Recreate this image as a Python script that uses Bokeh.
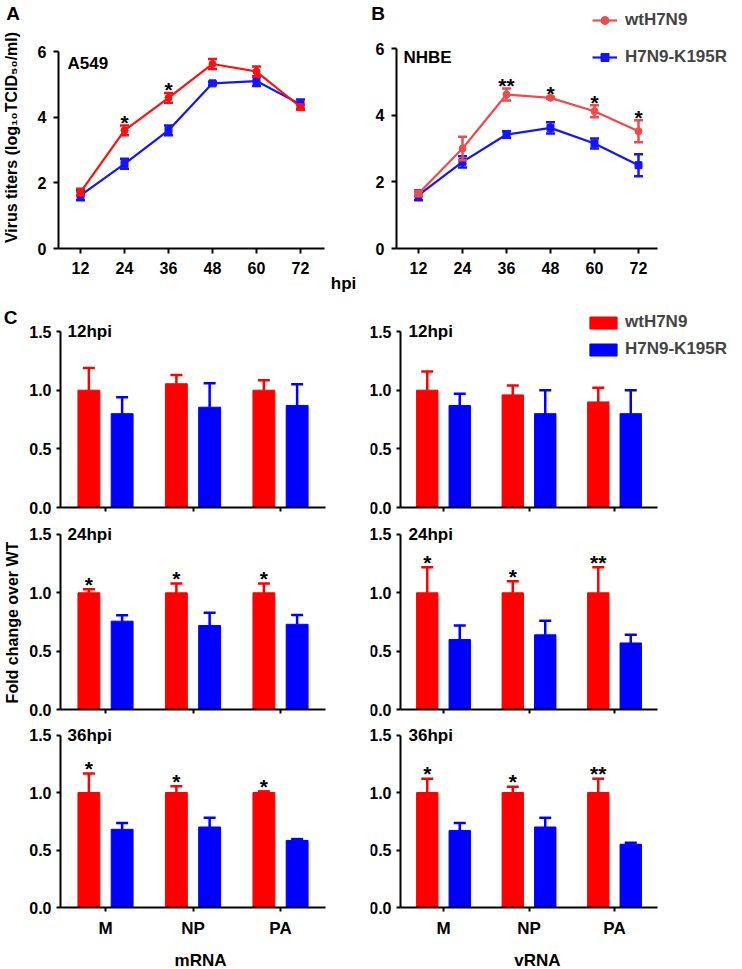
import math
from bokeh.plotting import figure
from bokeh.layouts import column, row
from bokeh.models import (Range1d, Label, Legend, LegendItem,
                          FixedTicker, ColumnDataSource, NumeralTickFormatter)
from bokeh.transform import dodge
from bokeh.core.properties import value
from bokeh.embed import file_html
from bokeh.resources import INLINE

# ---------------- data ----------------
hpi = [12, 24, 36, 48, 60, 72]
a549_wt = [1.72, 3.60, 4.59, 5.62, 5.39, 4.31]
a549_wt_sd = [0.10, 0.15, 0.15, 0.15, 0.15, 0.08]
a549_mut = [1.62, 2.58, 3.60, 5.03, 5.10, 4.39]
a549_mut_sd = [0.15, 0.15, 0.15, 0.05, 0.15, 0.15]
a549_stars = ["", "*", "*", "", "", ""]

nhbe_wt = [1.65, 3.00, 4.62, 4.52, 4.12, 3.52]
nhbe_wt_sd = [0.08, 0.35, 0.18, 0.03, 0.18, 0.33]
nhbe_mut = [1.60, 2.60, 3.42, 3.62, 3.15, 2.50]
nhbe_mut_sd = [0.15, 0.17, 0.10, 0.17, 0.15, 0.33]
nhbe_stars = ["", "", "**", "*", "*", "*"]

genes = ["M", "NP", "PA"]

m12_wt = [1.00, 1.055, 1.00]
m12_wt_sd = [0.19, 0.075, 0.085]
m12_mut = [0.80, 0.855, 0.87]
m12_mut_sd = [0.14, 0.205, 0.18]
m12_stars = ["", "", ""]

v12_wt = [1.00, 0.96, 0.90]
v12_wt_sd = [0.16, 0.08, 0.12]
v12_mut = [0.87, 0.80, 0.80]
v12_mut_sd = [0.10, 0.20, 0.20]
v12_stars = ["", "", ""]

m24_wt = [1.00, 1.00, 1.00]
m24_wt_sd = [0.03, 0.08, 0.08]
m24_mut = [0.757, 0.72, 0.73]
m24_mut_sd = [0.05, 0.11, 0.08]
m24_stars = ["*", "*", "*"]

v24_wt = [1.00, 1.00, 1.00]
v24_wt_sd = [0.22, 0.10, 0.22]
v24_mut = [0.60, 0.64, 0.57]
v24_mut_sd = [0.12, 0.12, 0.07]
v24_stars = ["*", "*", "**"]

m36_wt = [1.00, 1.00, 1.00]
m36_wt_sd = [0.166, 0.055, 0.01]
m36_mut = [0.68, 0.70, 0.583]
m36_mut_sd = [0.055, 0.08, 0.012]
m36_stars = ["*", "*", "*"]

v36_wt = [1.00, 1.00, 1.00]
v36_wt_sd = [0.12, 0.05, 0.12]
v36_mut = [0.67, 0.70, 0.55]
v36_mut_sd = [0.065, 0.08, 0.013]
v36_stars = ["*", "*", "**"]

y_ticks_line = [0, 2, 4, 6]
y_ticks_bar = [0, 0.5, 1.0, 1.5]

# ---------------- style ----------------
FONT = "Liberation Sans"
RED_A = "#ff1010"
RED_B = "#f04a4a"
BLUE = "#1414ff"
BAR_RED = "#ff0000"
BAR_BLUE = "#0000ff"
STAR_OFFSET = -5


def base_fig(W, H, x_range, y_range):
    p = figure(width=W, height=H, x_range=x_range, y_range=y_range,
               output_backend="svg", toolbar_location=None,
               min_border_left=0, min_border_right=0, min_border_top=0,
               min_border_bottom=0)
    p.outline_line_color = None
    p.xgrid.visible = False
    p.ygrid.visible = False
    p.background_fill_color = "white"
    p.border_fill_color = "white"
    for ax in (p.xaxis[0], p.yaxis[0]):
        ax.axis_line_width = 2
        ax.axis_line_color = "black"
        ax.major_tick_line_width = 2
        ax.major_tick_line_color = "black"
        ax.minor_tick_line_color = None
        ax.major_tick_in = 0
        ax.major_label_text_font = FONT
        ax.major_label_text_font_style = "bold"
        ax.major_label_text_color = "black"
        ax.major_label_text_font_size = "16px"
    return p


def label(p, H, text, lx, ly, size=16, align="left", baseline="middle",
          angle=0):
    # lx, ly: pixel position inside the figure, measured from its top-left
    p.add_layout(Label(x=lx, y=H - ly, x_units="screen", y_units="screen",
                       text=text, text_font=FONT, text_font_style="bold",
                       text_font_size=f"{size}px", text_color="black",
                       text_align=align, text_baseline=baseline, angle=angle))


def line_panel(W, H, ax_x, ax_y, ppy, xaxis_end, wt, wt_sd, mut, mut_sd,
               stars, red):
    # ax_x / ax_y: pixel position of the axes corner (x=6, y=0) in the figure
    ppx = 44 / 12
    xr = Range1d(6 - ax_x / ppx, 6 + (W - ax_x) / ppx)
    yr = Range1d(-(H - ax_y) / ppy, ax_y / ppy)
    p = base_fig(W, H, xr, yr)
    p.xaxis.fixed_location = 0
    p.yaxis.fixed_location = 6
    p.xaxis.ticker = FixedTicker(ticks=hpi)
    p.yaxis.ticker = FixedTicker(ticks=y_ticks_line)
    p.yaxis.bounds = (0, 6)
    p.xaxis.bounds = (6, xaxis_end)
    p.xaxis.major_tick_out = 5
    p.yaxis.major_tick_out = 5
    p.xaxis.major_label_standoff = 8
    p.yaxis.major_label_standoff = 7
    src = ColumnDataSource(dict(
        x=hpi, wt=wt, mut=mut,
        wt_lo=[a - b for a, b in zip(wt, wt_sd)],
        wt_hi=[a + b for a, b in zip(wt, wt_sd)],
        mut_lo=[a - b for a, b in zip(mut, mut_sd)],
        mut_hi=[a + b for a, b in zip(mut, mut_sd)],
        stars=stars))
    rs = {}
    for key, col, mk in (("mut", BLUE, "square"), ("wt", red, "circle")):
        l = p.line("x", key, source=src, line_color=col, line_width=2.2)
        p.segment(x0="x", y0=key + "_lo", x1="x", y1=key + "_hi", source=src,
                  line_color=col, line_width=2.5)
        for end in ("_lo", "_hi"):
            p.scatter("x", key + end, source=src, marker="dash", size=9,
                      line_color=col, line_width=2.5)
        m = p.scatter("x", key, source=src, marker=mk, size=7,
                      fill_color=col, line_color=col)
        rs[key] = (l, m)
    p.text("x", "wt_hi", text="stars", source=src, text_font=value(FONT),
           text_font_style="bold", text_font_size="21px", text_align="center",
           text_baseline="alphabetic", y_offset=STAR_OFFSET + 2,
           text_color="black")
    return p, rs


def bar_panel(W, H, ax_x, first_tick, ppx, axis_end, zero_y, ppy, wt, wt_sd,
              mut, mut_sd, stars, show_labels):
    # ax_x: pixel x of the y axis; first_tick: pixel x of the first category;
    # zero_y: pixel y of value 0 (from the figure top)
    idx = list(range(len(genes)))
    xr = Range1d(-first_tick / ppx, (W - first_tick) / ppx)
    yr = Range1d(-(H - zero_y) / ppy, zero_y / ppy)
    p = base_fig(W, H, xr, yr)
    x_lo = (ax_x - first_tick) / ppx
    p.xaxis.fixed_location = 0
    p.yaxis.fixed_location = x_lo
    p.xaxis.ticker = FixedTicker(ticks=idx)
    p.xaxis.bounds = (x_lo, (axis_end - first_tick) / ppx)
    p.yaxis.ticker = FixedTicker(ticks=y_ticks_bar)
    p.yaxis.formatter = NumeralTickFormatter(format="0.0")
    p.yaxis.bounds = (0, 1.5)
    p.yaxis.major_tick_out = 4
    p.yaxis.major_label_standoff = 5
    p.xaxis.major_tick_out = 4
    if show_labels:
        p.xaxis.major_label_overrides = {i: g for i, g in zip(idx, genes)}
        p.xaxis.major_label_text_font_size = "17px"
        p.xaxis.major_label_standoff = 7
    else:
        p.xaxis.major_label_overrides = {i: "" for i in idx}
        p.xaxis.major_label_standoff = 0
    src = ColumnDataSource(dict(
        idx=idx, wt=wt, mut=mut,
        wt_hi=[a + b for a, b in zip(wt, wt_sd)],
        mut_hi=[a + b for a, b in zip(mut, mut_sd)],
        stars=stars))
    rs = {}
    for key, col, off in (("wt", BAR_RED, -0.19), ("mut", BAR_BLUE, 0.19)):
        xx = dodge("idx", off)
        rs[key] = p.vbar(x=xx, top=key, width=0.25, source=src,
                         fill_color=col, line_color=col, line_width=1)
        p.segment(x0=xx, y0=key, x1=xx, y1=key + "_hi", source=src,
                  line_color=col, line_width=2.5)
        p.scatter(x=xx, y=key + "_hi", source=src, marker="dash", size=12,
                  line_color=col, line_width=2.5)
    p.text(x=dodge("idx", -0.19), y="wt_hi", text="stars",
           source=src, text_font=value(FONT), text_font_style="bold",
           text_font_size="21px", text_align="center",
           text_baseline="alphabetic", y_offset=STAR_OFFSET,
           text_color="black")
    return p, rs


# ---------------- top row (figure boxes: A 0..370, B 370..742; 0..295) ----
TOP_H = 295
pA, _ = line_panel(370, TOP_H, 58, 248, 32.83, 78.5, a549_wt, a549_wt_sd,
                   a549_mut, a549_mut_sd, a549_stars, RED_A)
label(pA, TOP_H, "A", 12.5, 12.5, size=19, align="center")
label(pA, TOP_H, "A549", 67, 62.5, size=17)
label(pA, TOP_H, "Virus titers (log\u2081\u2080TCID\u2085\u2080/ml)", 11, 137,
      size=16, align="center", angle=math.pi / 2)
label(pA, TOP_H, "hpi", 343, 283, size=17, align="center")

pB, rB = line_panel(372, TOP_H, 26, 248, 33.33, 77.2, nhbe_wt, nhbe_wt_sd,
                    nhbe_mut, nhbe_mut_sd, nhbe_stars, RED_B)
label(pB, TOP_H, "B", 7.5, 12.5, size=19, align="center")
label(pB, TOP_H, "NHBE", 33, 57, size=17)
legB = Legend(items=[LegendItem(label="wtH7N9", renderers=list(rB["wt"])),
                     LegendItem(label="H7N9-K195R", renderers=list(rB["mut"]))],
              location=(222, TOP_H - 67), padding=0, margin=0,
              glyph_width=25, glyph_height=20, label_height=20,
              spacing=17, label_standoff=8,
              label_text_font=FONT, label_text_font_style="bold",
              label_text_font_size="17px", border_line_color=None,
              background_fill_alpha=0)
pB.add_layout(legB)

# ---------------- bar rows (row boxes: 295..520, 520..722, 722..969) ------
H1, H2, H3 = 225, 202, 247
m12, _ = bar_panel(370, H1, 60, 105, 87.5, 325, 212, 117.3, m12_wt, m12_wt_sd,
                   m12_mut, m12_mut_sd, m12_stars, False)
v12, rv12 = bar_panel(372, H1, 30, 73, 85.5, 287, 212, 117.3, v12_wt,
                      v12_wt_sd, v12_mut, v12_mut_sd, v12_stars, False)
m24, _ = bar_panel(370, H2, 60, 105, 87.5, 325, 189, 116.7, m24_wt, m24_wt_sd,
                   m24_mut, m24_mut_sd, m24_stars, False)
v24, _ = bar_panel(372, H2, 30, 73, 85.5, 287, 189, 116.7, v24_wt, v24_wt_sd,
                   v24_mut, v24_mut_sd, v24_stars, False)
m36, _ = bar_panel(370, H3, 60, 105, 87.5, 325, 185, 115.0, m36_wt, m36_wt_sd,
                   m36_mut, m36_mut_sd, m36_stars, True)
v36, _ = bar_panel(372, H3, 30, 73, 85.5, 287, 185, 115.0, v36_wt, v36_wt_sd,
                   v36_mut, v36_mut_sd, v36_stars, True)

for p, H, t, lx in ((m12, H1, "12hpi", 67), (v12, H1, "12hpi", 38),
                    (m24, H2, "24hpi", 67), (v24, H2, "24hpi", 38),
                    (m36, H3, "36hpi", 67), (v36, H3, "36hpi", 38)):
    p.add_layout(Label(x=lx, y=1.5, x_units="screen", y_units="data", text=t,
                       text_font=FONT, text_font_style="bold",
                       text_font_size="17px", text_color="black",
                       text_align="left", text_baseline="middle"))

label(m12, H1, "C", 10, 22, size=19, align="center")
label(m24, H2, "Fold change over WT", 12, 102, size=16, align="center",
      angle=math.pi / 2)
label(m36, H3, "mRNA", 200, 238, size=17, align="center")
label(v36, H3, "vRNA", 167, 238, size=17, align="center")

legC = Legend(items=[LegendItem(label="wtH7N9", renderers=[rv12["wt"]]),
                     LegendItem(label="H7N9-K195R", renderers=[rv12["mut"]])],
              location=(216, H1 - 64), padding=0, margin=0,
              glyph_width=34, glyph_height=15, label_height=20,
              spacing=7, label_standoff=5,
              label_text_font=FONT, label_text_font_style="bold",
              label_text_font_size="17px", border_line_color=None,
              background_fill_alpha=0)
v12.add_layout(legC)

layout = column(row(pA, pB, spacing=0), row(m12, v12, spacing=0),
                row(m24, v24, spacing=0), row(m36, v36, spacing=0), spacing=0)

open("out.html", "w").write(file_html(layout, INLINE))
